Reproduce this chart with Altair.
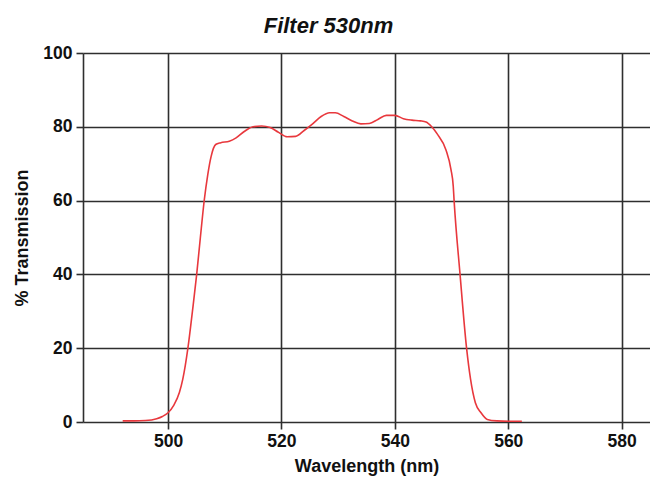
import altair as alt
import pandas as pd

wavelength = [492, 494, 496, 498, 499, 500, 501, 502, 502.6, 503.5, 504.3, 505.05,
              505.7, 506.4, 507, 507.6, 508.4, 509.3, 510.8, 512, 513.5, 515, 516.5,
              518, 519.5, 521, 522.5, 524, 525.5, 527, 528.5, 529.5, 531, 532.5, 534,
              535.5, 537, 538.5, 540, 541.5, 543, 544.5, 545.5, 546.5, 547.5, 549,
              549.9, 550.3, 550.45, 551.5, 552.65, 553.35, 554.2, 555.2, 556.3, 558,
              560, 562.4]
transmission = [0.3, 0.3, 0.4, 0.9, 1.5, 2.5, 4.5, 8, 11.6, 20, 30, 40,
                50, 60.3, 67, 72, 75.2, 75.7, 76.1, 77, 78.8, 80, 80.2,
                79.8, 78.5, 77.3, 77.4, 79, 80.8, 82.8, 83.8, 83.8, 82.8, 81.6, 80.8,
                80.9, 82, 83.1, 83.1, 82.2, 81.8, 81.6, 81.3, 80, 78, 73.8,
                68.4, 63.9, 60, 40, 20, 11.6, 5.2, 2.5, 0.7, 0.3,
                0.2, 0.2]
x_ticks = [500, 520, 540, 560, 580]
y_ticks = [0, 20, 40, 60, 80, 100]

df = pd.DataFrame({"wl": wavelength, "t": transmission})

FONT = "Liberation Sans"
GRID = "#2e2e2e"

chart = alt.Chart(df).mark_line(
    color="#e8383d", strokeWidth=1.6, interpolate="monotone"
).encode(
    x=alt.X("wl:Q", scale=alt.Scale(domain=[485, 585], nice=False, zero=False),
            axis=alt.Axis(title="Wavelength (nm)", values=x_ticks, grid=True,
                          gridColor=GRID, gridWidth=1.6, domain=False,
                          tickColor=GRID, tickWidth=1.6, tickSize=7,
                          labelFont=FONT, labelFontSize=17.5, labelFontWeight="bold",
                          labelColor="#111", labelPadding=3,
                          titleFont=FONT, titleFontSize=18, titleFontWeight="bold",
                          titleColor="#111", titlePadding=8)),
    y=alt.Y("t:Q", scale=alt.Scale(domain=[0, 100], nice=False),
            axis=alt.Axis(title="% Transmission", values=y_ticks, grid=True,
                          gridColor=GRID, gridWidth=1.6, domain=True,
                          domainColor=GRID, domainWidth=1.6,
                          tickColor=GRID, tickWidth=1.6, tickSize=7,
                          labelFont=FONT, labelFontSize=17.5, labelFontWeight="bold",
                          labelColor="#111", labelPadding=4,
                          titleFont=FONT, titleFontSize=18, titleFontWeight="bold",
                          titleColor="#111", titlePadding=11)),
).properties(
    width=567,
    height=369,
    title=alt.TitleParams("Filter 530nm", font=FONT, fontSize=22, fontWeight="bold",
                          fontStyle="italic", color="#111", anchor="middle", dx=-38,
                          offset=6),
    padding={"left": 75, "top": 45, "right": 0, "bottom": 55},
    autosize=alt.AutoSizeParams(type="none"),
).configure_view(stroke=None)

chart.save("out.html", embed_options={"renderer": "svg", "actions": False})
